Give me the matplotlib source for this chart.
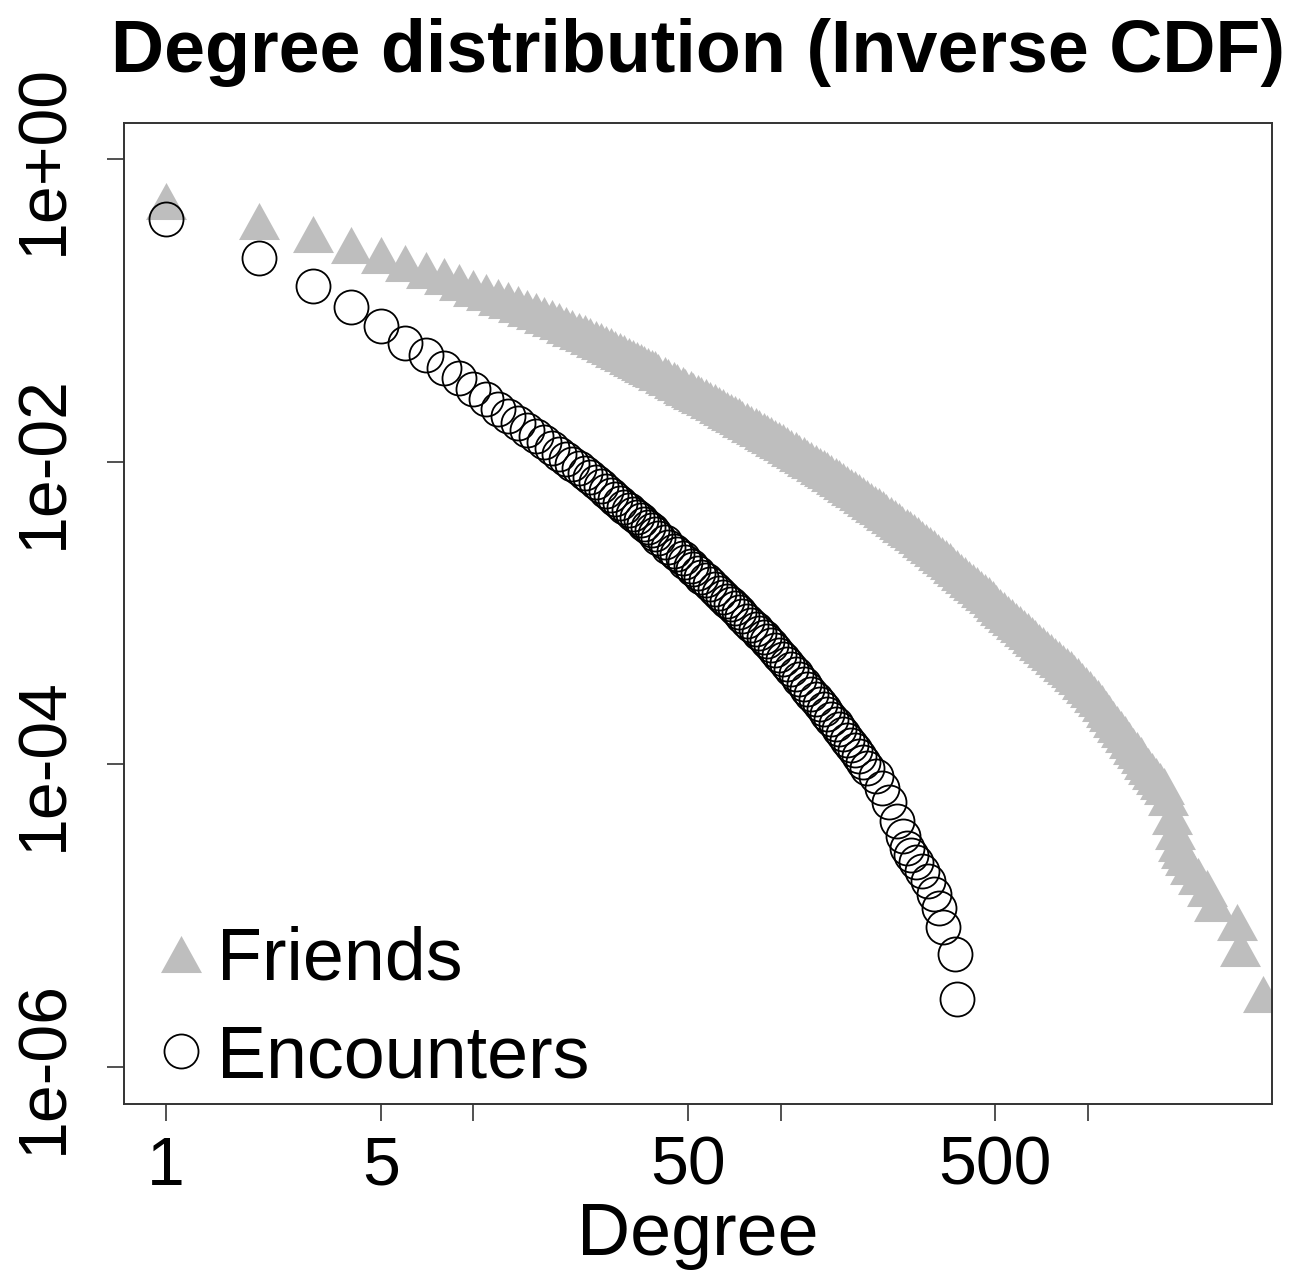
import matplotlib
matplotlib.use('Agg')
import matplotlib.pyplot as plt

# values (inverse CDF = fraction of nodes with degree >= k)
friends_degree = [1, 2, 3, 4, 5, 6, 7, 8, 9, 10, 11, 12,
                  13, 14, 15, 16, 17, 18, 19, 20, 21, 22,
                  23, 24, 25, 26, 27, 28, 29, 30, 31, 32, 33, 34, 35, 36, 37, 38, 39, 40,
                  42, 43, 45, 46, 48, 49, 51, 52, 54, 55, 57, 59, 61, 63, 65, 67, 69, 71, 73, 75,
                  78, 80, 83, 85, 88, 90, 93, 96, 99,
                  102, 105, 108, 112, 115, 119, 122, 126, 130, 134, 138, 142, 146, 151, 155, 160,
                  165, 170, 175, 180, 185, 191, 197,
                  203, 209, 215, 221, 228, 235, 242, 249, 257, 264, 272, 280, 289, 297, 306, 315,
                  325, 335, 345, 355, 365, 376, 387, 399,
                  411, 423, 435, 448, 462, 476, 490, 504, 519, 534, 550, 566, 583, 600, 618, 637,
                  656, 675, 695, 716, 737, 759, 781, 804, 828, 853, 878, 904, 930, 958, 986,
                  1015, 1045, 1076, 1108, 1141, 1175, 1209, 1245, 1282, 1320,
                  1359, 1399, 1440, 1483, 1527, 1572, 1618, 1666, 1715, 1766,
                  1822, 1877, 1920, 1964, 2009, 2070, 2149, 2282, 2441, 2573, 3057, 3127, 3715]
friends_ccdf = [0.528, 0.390, 0.320, 0.2706, 0.2325, 0.2058, 0.1851, 0.1689, 0.1542, 0.1408, 0.1325, 0.1228,
                0.1173, 0.1104, 0.1038, 0.0985, 0.0934, 0.0892, 0.0846, 0.0802, 0.0766, 0.0732,
                0.0705, 0.0676, 0.0648, 0.0624, 0.0601, 0.0579, 0.0557, 0.0538, 0.0520, 0.0503,
                0.0486, 0.0471, 0.0457, 0.0443, 0.0430, 0.0419, 0.0408, 0.0391,
                0.0375, 0.0361, 0.0348, 0.0335, 0.0322, 0.0311, 0.0301, 0.0292, 0.0283, 0.0275,
                0.0267, 0.0257, 0.0247, 0.0238, 0.0229, 0.0221, 0.0214, 0.0207, 0.0200, 0.0192,
                0.0185, 0.0178, 0.0172, 0.0166, 0.0160, 0.0155, 0.0150, 0.0144, 0.0139,
                0.0134, 0.0129, 0.0124, 0.0119, 0.0114, 0.0110, 0.0106, 0.0102, 0.00980, 0.00941,
                0.00909, 0.00879, 0.00843, 0.00808, 0.00775, 0.00743, 0.00713, 0.00684, 0.00656, 0.00629,
                0.00603, 0.00579, 0.00553,
                0.00528, 0.00507, 0.00486, 0.00466, 0.00447, 0.00427, 0.00408, 0.00390, 0.00372, 0.00357,
                0.00342, 0.00326, 0.00310, 0.00296, 0.00283, 0.00269, 0.00255, 0.00243, 0.00231, 0.00220,
                0.00209, 0.00198, 0.00188, 0.00178,
                0.00169, 0.00161, 0.00153, 0.00145, 0.00138, 0.00131, 0.00124, 0.00117, 0.00110, 0.00105,
                0.000993, 0.000941, 0.000892, 0.000846, 0.000802, 0.000760, 0.000721, 0.000684, 0.000648, 0.000615,
                0.000583, 0.000553, 0.000524, 0.000497, 0.000471, 0.000447, 0.000424, 0.000402, 0.000381, 0.000358,
                0.000337,
                0.000315, 0.000294, 0.000273, 0.000253, 0.000234, 0.000217, 0.000200, 0.000184, 0.000171, 0.000158,
                0.000145, 0.000133, 0.000124, 0.000115, 0.000106, 0.0000970, 0.0000899, 0.0000833, 0.0000772, 0.0000716,
                0.0000606, 0.0000454, 0.0000361, 0.0000303, 0.0000273, 0.0000243, 0.0000212, 0.0000182,
                0.0000152, 0.0000121, 0.00000906, 0.00000610, 0.00000303]

encounters_degree = [1, 2, 3, 4, 5, 6, 7, 8, 9, 10, 11, 12,
                     13, 14, 15, 16, 17, 18, 19, 20, 21, 22,
                     23, 24, 25, 26, 27, 28, 29, 30, 31, 32, 33, 34, 35, 36, 37, 38, 39, 40,
                     42, 43, 45, 46, 48, 49, 51, 52, 54, 55, 57, 59, 61, 63, 65, 67, 69, 71, 73, 75,
                     78, 80, 83, 85, 88, 90, 93, 96, 99,
                     102, 105, 108, 112, 115, 119, 122, 126, 130, 134, 138, 142, 146, 151, 155, 160,
                     165, 170, 175, 180, 185, 191,
                     204, 213, 226, 240, 250, 257, 265, 275, 288, 301, 315, 327, 337, 369, 375]
encounters_ccdf = [0.4018, 0.2221, 0.1451, 0.1055, 0.0790, 0.0610, 0.0509, 0.0417, 0.0358, 0.0303, 0.0260, 0.0224,
                   0.02018, 0.01804, 0.01624, 0.01474, 0.01343, 0.01230, 0.01131, 0.01045, 0.00970, 0.00903,
                   0.00844, 0.00788, 0.00735, 0.00687, 0.00643, 0.00603, 0.00566, 0.00534, 0.00504, 0.00477,
                   0.00452, 0.00430, 0.00409, 0.00388, 0.00369, 0.00352, 0.00335, 0.00313,
                   0.00293, 0.00275, 0.00258, 0.00244, 0.00230, 0.00217, 0.00205, 0.00194, 0.00184, 0.00174,
                   0.00165, 0.00155, 0.00145, 0.00136, 0.00128, 0.00121, 0.00114, 0.00108, 0.00102, 0.000953,
                   0.000891, 0.000834, 0.000781, 0.000735, 0.000692, 0.000654, 0.000618, 0.000573, 0.000532,
                   0.000495, 0.000461, 0.000426, 0.000394, 0.000366, 0.000340, 0.000316, 0.000294, 0.000272, 0.000251,
                   0.000232, 0.000215, 0.000199, 0.000184, 0.000171, 0.000158, 0.000146, 0.000134, 0.000124, 0.000114,
                   0.000104, 0.0000948,
                   0.0000843, 0.0000702, 0.0000562, 0.0000421, 0.0000337, 0.0000281, 0.0000253, 0.0000225,
                   0.0000197, 0.0000169, 0.0000140, 0.0000112, 0.00000843, 0.00000562, 0.00000281]

x_ticks = [1, 5, 10, 50, 100, 500, 1000]
x_tick_labels = ['1', '5', '', '50', '', '500', '']
y_ticks = [1e0, 1e-2, 1e-4, 1e-6]
y_tick_labels = ['1e+00', '1e-02', '1e-04', '1e-06']


def main():
    assert len(friends_degree) == len(friends_ccdf)
    assert len(encounters_degree) == len(encounters_ccdf)

    plt.rcParams['font.family'] = ['Liberation Sans', 'DejaVu Sans']

    # R style triangle, a bit flatter than matplotlib's '^'
    tri = [(0, 0.905), (-1, -0.905), (1, -0.905), (0, 0.905)]

    fig = plt.figure(figsize=(13.1, 12.87), dpi=100)
    ax = fig.add_axes([0.0947, 0.1422, 0.8763, 0.7622])

    ax.plot(friends_degree, friends_ccdf, linestyle='none', marker=tri, markersize=29.5,
            color='#bebebe', markeredgewidth=0, label='Friends')
    ax.plot(encounters_degree, encounters_ccdf, linestyle='none', marker='o', markersize=24.5,
            markerfacecolor='none', markeredgecolor='black', markeredgewidth=1.3, label='Encounters')

    ax.set_xscale('log')
    ax.set_yscale('log')
    ax.set_xlim(0.73, 3972)
    ax.set_ylim(5.7e-7, 1.73)
    ax.set_xticks(x_ticks, x_tick_labels)
    ax.set_yticks(y_ticks, y_tick_labels)
    ax.minorticks_off()

    ax.tick_params(axis='both', length=12, width=1.1, labelsize=49, color='#222222')
    ax.tick_params(axis='x', pad=10)
    ax.tick_params(axis='y', pad=22, labelrotation=90)
    for lbl in ax.get_yticklabels():
        lbl.set_verticalalignment('center')

    for s in ax.spines.values():
        s.set_linewidth(1.4)
        s.set_color('#333333')

    ax.set_xlabel('Degree', fontsize=53, labelpad=2)
    ax.set_title('Degree distribution (Inverse CDF)', fontsize=53, fontweight='bold', pad=37)

    ax.legend(loc='lower left', bbox_to_anchor=(0.03, 0.012), frameon=False, fontsize=53,
              handlelength=0.6, handletextpad=0.19, labelspacing=0.39, borderpad=0,
              borderaxespad=0, numpoints=1)

    fig.savefig('out.png', dpi=100)


if __name__ == '__main__':
    main()
